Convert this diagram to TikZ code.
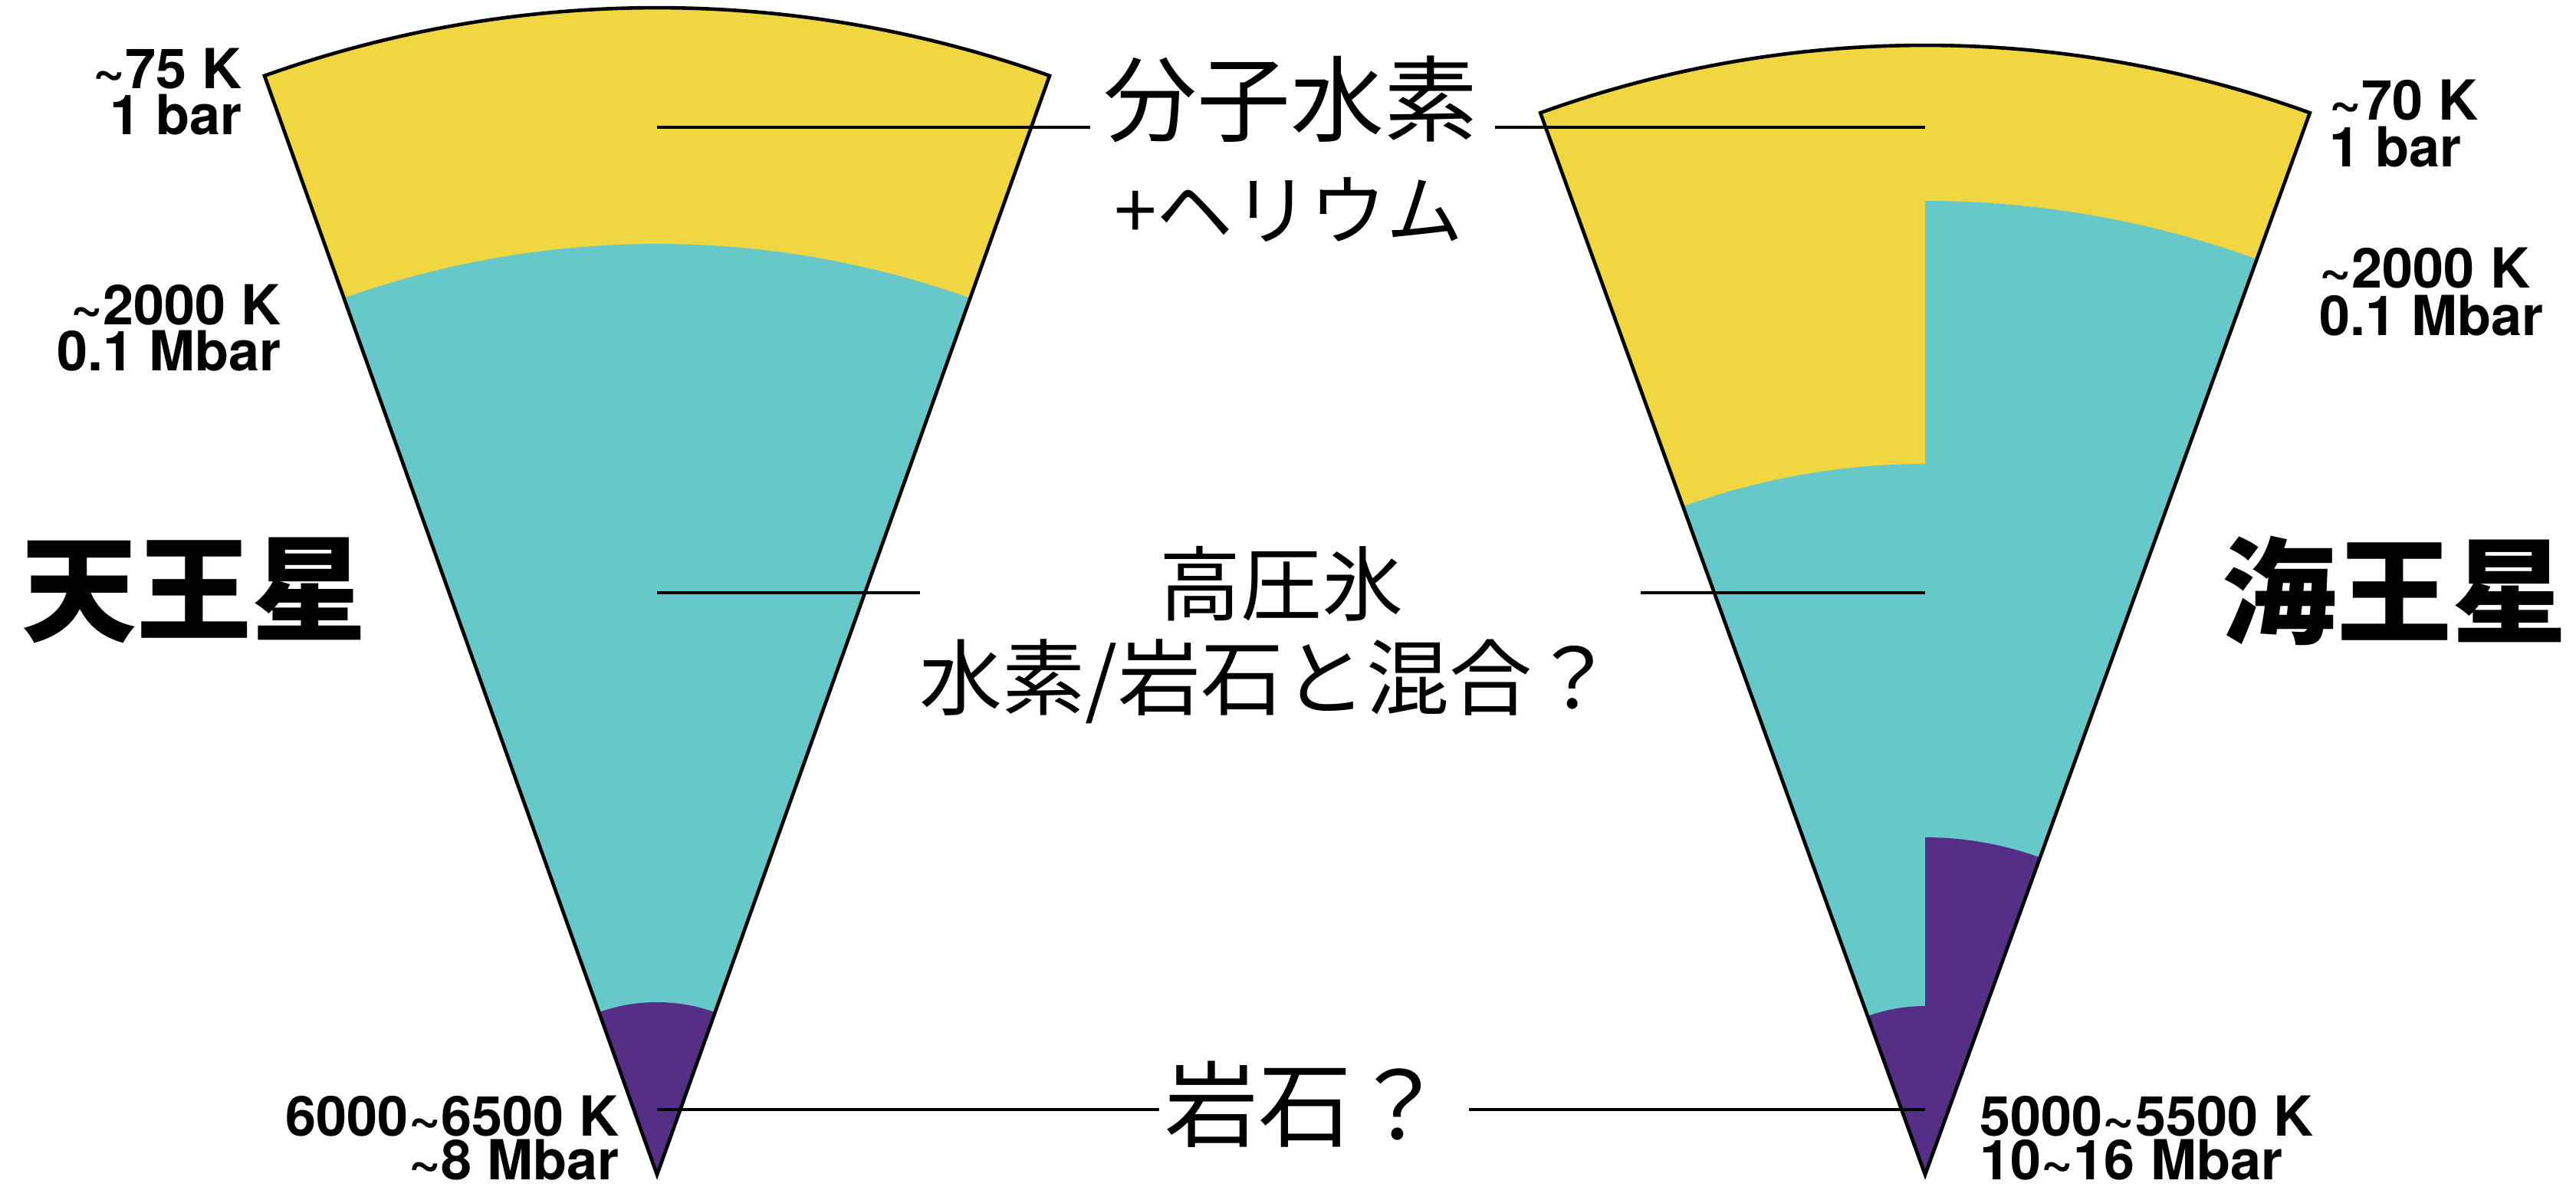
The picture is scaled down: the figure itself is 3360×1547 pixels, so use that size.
\documentclass[tikz,border=0pt]{standalone}
\usepackage{fontspec}
\newfontfamily\jp{Noto Sans CJK JP}
\newfontfamily\lab{TeX Gyre Heros}
\definecolor{gas}{RGB}{240,214,64}
\definecolor{ice}{RGB}{103,200,201}
\definecolor{rock}{RGB}{85,46,133}
\newcommand{\tld}{\textasciitilde}
\begin{document}
\begin{tikzpicture}[x=0.25pt,y=0.25pt,
  rim/.style={draw=black,line width=1.15pt,line join=miter},
  leader/.style={draw=black,line width=0.95pt},
  val/.style={inner sep=0pt,font=\lab\bfseries\fontsize{18}{18}\selectfont},
  layer/.style={inner sep=0pt,font=\jp\fontsize{#1}{#1}\selectfont},
  planet/.style={inner sep=0pt,font=\jp\bfseries\fontsize{37.5}{37.5}\selectfont}]
\useasboundingbox (0,0) rectangle (3360,1547);
\fill[white] (0,0) rectangle (3360,1547);

% ---- Uranus sector ----
\coordinate (uc) at (857,15);
\fill[gas]  (uc) -- ++(70.34:1522) arc[start angle=70.34,end angle=109.66,radius=1522] -- cycle;
\fill[ice]  (uc) -- ++(70.34:1214) arc[start angle=70.34,end angle=109.66,radius=1214] -- cycle;
\fill[rock] (uc) -- ++(70.34:225)  arc[start angle=70.34,end angle=109.66,radius=225]  -- cycle;
\path[rim]  (uc) -- ++(70.34:1522) arc[start angle=70.34,end angle=109.66,radius=1522] -- cycle;

% ---- Neptune sector: two model halves ----
\coordinate (nc) at (2511,15);
\fill[gas]  (nc) -- ++(70.08:1473) arc[start angle=70.08,end angle=109.92,radius=1473] -- cycle;
% left half
\fill[ice]  (nc) -- ++(90:927) arc[start angle=90,end angle=109.92,radius=927] -- cycle;
\fill[rock] (nc) -- ++(90:220) arc[start angle=90,end angle=109.92,radius=220] -- cycle;
% right half
\fill[ice]  (nc) -- ++(70.08:1270) arc[start angle=70.08,end angle=90,radius=1270] -- cycle;
\fill[rock] (nc) -- ++(70.08:440)  arc[start angle=70.08,end angle=90,radius=440]  -- cycle;
\path[rim]  (nc) -- ++(70.08:1473) arc[start angle=70.08,end angle=109.92,radius=1473] -- cycle;

% ---- layer names ----
\node[layer=30.5] (h2)  at (1683,1418) {分子水素};
\node[layer=25]   (he)  at (1681,1274) {+ヘリウム};
\node[layer=26.5] (ice1) at (1671,786) {高圧氷};
\node[layer=27]   (ice2) at (1653,658) {水素/岩石と混合？};
\node[layer=30.5] (core) at (1702,107) {岩石？};

% ---- leader lines ----
\coordinate (u1) at (857,1381);  \coordinate (u1e) at (1422,1381);
\coordinate (n1s) at (1950,1381); \coordinate (n1) at (2511,1381);
\coordinate (u2) at (857,774);   \coordinate (u2e) at (1200,774);
\coordinate (n2s) at (2140,774); \coordinate (n2) at (2511,774);
\coordinate (u3) at (857,100);   \coordinate (u3e) at (1512,100);
\coordinate (n3s) at (1916,100); \coordinate (n3) at (2511,100);
\draw[leader] (u1) -- (u1e);
\draw[leader] (n1s) -- (n1);
\draw[leader] (u2) -- (u2e);
\draw[leader] (n2s) -- (n2);
\draw[leader] (u3) -- (u3e);
\draw[leader] (n3s) -- (n3);

% ---- planet names ----
\node[planet] (uranus)  at (253,777)  {天王星};
\node[planet] (neptune) at (3123,777) {海王星};

% ---- temperature / pressure values, Uranus ----
\node[val,anchor=base east] (ut1) at (316,1432) {\tld75 K};
\node[val,anchor=base east] (up1) at (316,1372) {1 bar};
\node[val,anchor=base east] (ut2) at (367,1124) {\tld2000 K};
\node[val,anchor=base east] (up2) at (367,1064) {0.1 Mbar};
\node[val,anchor=base east] (ut3) at (808,66)   {6000\tld6500 K};
\node[val,anchor=base east] (up3) at (808,9)    {\tld8 Mbar};

% ---- temperature / pressure values, Neptune ----
\node[val,anchor=base west] (nt1) at (3038,1391) {\tld70 K};
\node[val,anchor=base west] (np1) at (3038,1330) {1 bar};
\node[val,anchor=base west] (nt2) at (3025,1172) {\tld2000 K};
\node[val,anchor=base west] (np2) at (3025,1110) {0.1 Mbar};
\node[val,anchor=base west] (nt3) at (2582,66)   {5000\tld5500 K};
\node[val,anchor=base west] (np3) at (2582,9)    {10\tld16 Mbar};
\end{tikzpicture}
\end{document}
